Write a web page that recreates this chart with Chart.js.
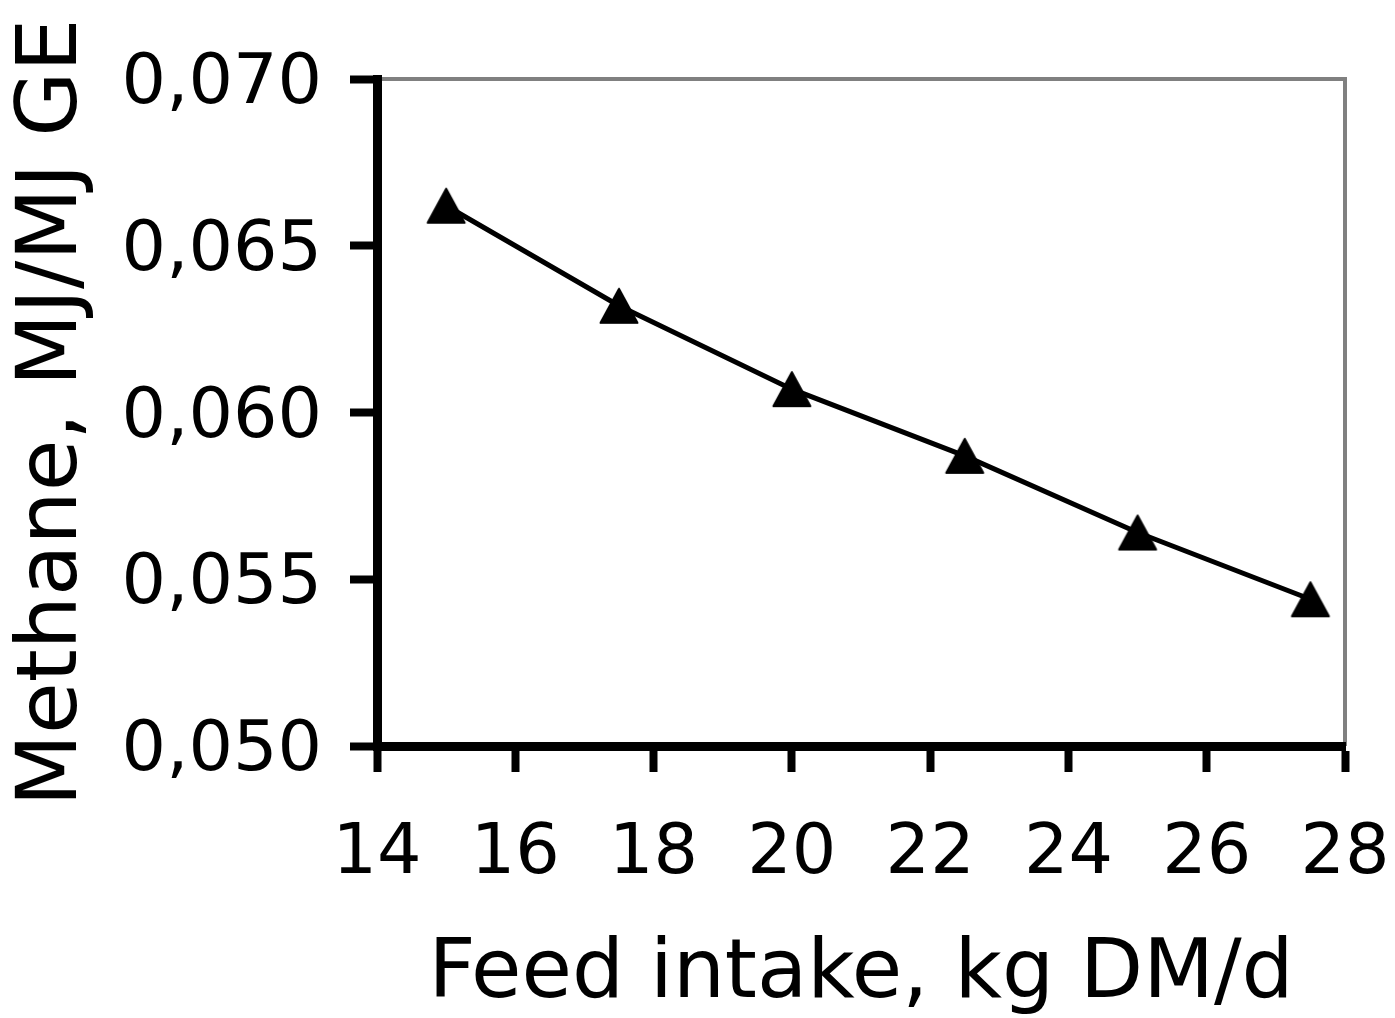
<!DOCTYPE html>
<html>
<head>
<meta charset="utf-8">
<script src="https://cdn.jsdelivr.net/npm/chart.js@4.4.1/dist/chart.umd.min.js"></script>
<style>
  html, body { margin: 0; padding: 0; background: #fff; }
  canvas { display: block; }
</style>
</head>
<body>
<canvas id="methaneChart" width="1395" height="1018"></canvas>
<script>
// Data
const feedIntake = [15, 17.5, 20, 22.5, 25, 27.5];          // kg DM/d
const methaneYield = [0.0662, 0.0632, 0.0607, 0.0587, 0.0564, 0.0544]; // MJ/MJ GE
const xTicks = [14, 16, 18, 20, 22, 24, 26, 28];
const yTicks = [0.050, 0.055, 0.060, 0.065, 0.070];

const FONT = 'DejaVu Sans';

// Filled triangle marker, apex a bit closer to the point than the base
function makeTriangle() {
    const c = document.createElement('canvas');
    c.width = 42;
    c.height = 40;
    const g = c.getContext('2d');
    g.fillStyle = '#000';
    g.strokeStyle = '#000';
    g.lineWidth = 2;
    g.lineJoin = 'round';
    g.beginPath();
    g.moveTo(21, 3);
    g.lineTo(39.5, 37);
    g.lineTo(2.5, 37);
    g.closePath();
    g.fill();
    g.stroke();
    return c;
}

// Gray frame on top and right of the plot area
const frame = {
    id: 'frame',
    beforeDraw(chart) {
        const a = chart.chartArea;
        const ctx = chart.ctx;
        ctx.save();
        ctx.strokeStyle = '#808080';
        ctx.lineWidth = 4;
        ctx.beginPath();
        ctx.moveTo(a.left, a.top);
        ctx.lineTo(a.right, a.top);
        ctx.lineTo(a.right, a.bottom);
        ctx.stroke();
        ctx.restore();
    }
};

new Chart(document.getElementById('methaneChart'), {
    type: 'scatter',
    data: {
        datasets: [{
            data: feedIntake.map((x, i) => ({ x: x, y: methaneYield[i] })),
            showLine: true,
            borderColor: '#000',
            borderWidth: 5,
            pointStyle: makeTriangle(),
            pointRadius: 18,
            pointHoverRadius: 18,
            tension: 0
        }]
    },
    plugins: [frame],
    options: {
        responsive: false,
        animation: false,
        events: [],
        layout: { padding: { top: 79, right: 50, left: 0, bottom: 0 } },
        plugins: {
            legend: { display: false },
            tooltip: { enabled: false }
        },
        scales: {
            x: {
                type: 'linear',
                min: 14,
                max: 28,
                afterBuildTicks: s => { s.ticks = xTicks.map(v => ({ value: v })); },
                afterFit: s => {
                    s.height = 272;
                    s.paddingLeft = 0;
                    s.paddingRight = 40;
                },
                border: { display: true, color: '#000', width: 9 },
                grid: {
                    drawOnChartArea: false,
                    drawTicks: true,
                    tickLength: 26,
                    tickWidth: 8,
                    tickColor: '#000'
                },
                ticks: {
                    autoSkip: false,
                    maxRotation: 0,
                    padding: 41,
                    color: '#000',
                    font: { family: FONT, size: 70 }
                },
                title: {
                    display: true,
                    text: 'Feed intake, kg DM/d',
                    color: '#000',
                    font: { family: FONT, size: 82, lineHeight: 1 },
                    padding: { top: 0, bottom: 1 }
                }
            },
            y: {
                type: 'linear',
                min: 0.050,
                max: 0.070,
                afterBuildTicks: s => { s.ticks = yTicks.map(v => ({ value: v })); },
                afterFit: s => { s.width = 377; },
                border: { display: true, color: '#000', width: 9 },
                grid: {
                    drawOnChartArea: false,
                    drawTicks: true,
                    tickLength: 27,
                    tickWidth: 8,
                    tickColor: '#000'
                },
                ticks: {
                    padding: 28,
                    labelOffset: 6,
                    color: '#000',
                    font: { family: FONT, size: 70 },
                    callback: v => v.toFixed(3).replace('.', ',')
                },
                title: {
                    display: true,
                    text: 'Methane, MJ/MJ GE',
                    color: '#000',
                    font: { family: FONT, size: 84, lineHeight: 1 },
                    padding: { top: 12, bottom: 0 }
                }
            }
        }
    }
});
</script>
</body>
</html>
